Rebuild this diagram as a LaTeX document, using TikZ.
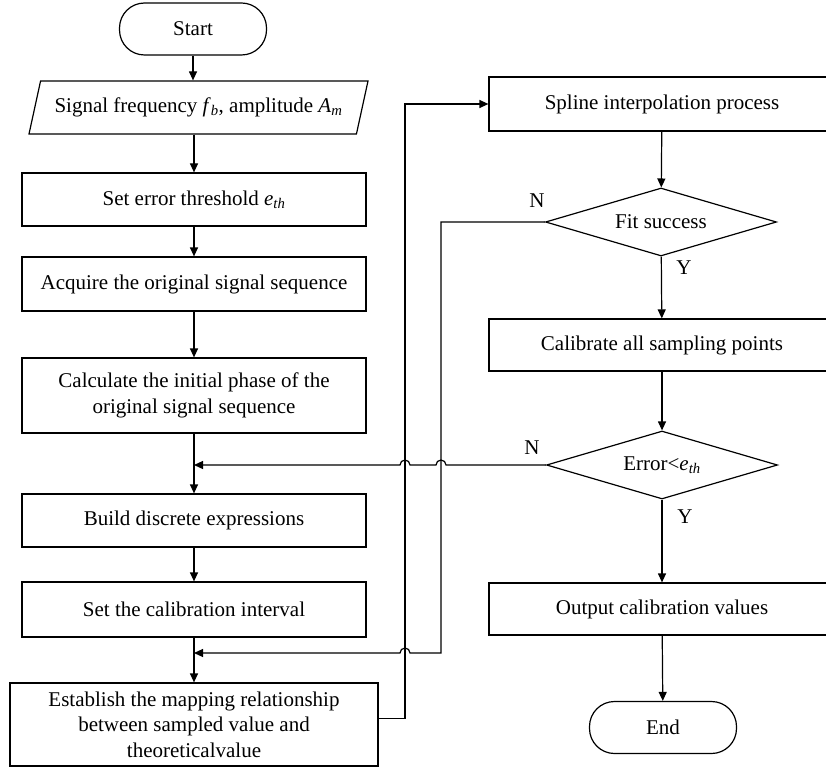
\documentclass[tikz,border=0pt]{standalone}
\usepackage{fontspec}
\setmainfont{Liberation Serif}
\usetikzlibrary{arrows.meta,shapes.geometric,calc}

\newcommand{\itsub}[2]{\textit{#1}\textsubscript{\textit{#2}}}

\begin{document}
\begin{tikzpicture}[
    x=1pt, y=-1pt,
    >={Triangle[length=9pt,width=8pt]},
    every node/.style={font=\fontsize{21}{25.5}\selectfont},
    term/.style={
        rectangle,
        rounded corners=25pt,
        draw,
        line width=1.2pt,
        minimum width=147pt,
        minimum height=52pt
    },
    io/.style={
        trapezium,
        trapezium left angle=66,
        trapezium right angle=114,
        trapezium stretches body,
        draw,
        line width=1.2pt,
        minimum width=339pt,
        minimum height=53pt
    },
    proc/.style={
        rectangle,
        draw,
        line width=1.2pt,
        align=center,
        minimum width=344pt,
        minimum height=54pt
    },
    dec/.style={
        diamond,
        aspect=3.4,
        draw,
        line width=1.2pt,
        inner sep=0pt,
        minimum width=231pt,
        minimum height=68pt
    },
    flow/.style={->, line width=1.2pt}
]
\useasboundingbox (0,0) rectangle (826,767);

% ==================== Left column ====================
\node[term] (start) at (193,29) {Start};
\node[io] (param) at (198.5,107.5) {Signal frequency \itsub{f}{b}, amplitude \itsub{A}{m}};
\node[proc, minimum height=53pt] (seterr) at (194,199.5) {Set error threshold \itsub{e}{th}};
\node[proc] (acquire) at (194,284) {Acquire the original signal sequence};
\node[proc, minimum height=75pt] (phase) at (194,395.5) {Calculate the initial phase of the\\original signal sequence};
\node[proc, minimum height=53pt] (build) at (194,520.5) {Build discrete expressions};
\node[proc, minimum height=55pt] (interval) at (194,609.5) {Set the calibration interval};
\node[proc, minimum width=368pt, minimum height=83pt] (mapping) at (194,724.5) {Establish the mapping relationship\\between sampled value and\\theoreticalvalue};

% ==================== Right column ====================
\node[proc, minimum width=346pt] (spline) at (662,104) {Spline interpolation process};
\node[dec] (fit) at (661,222) {Fit success};
\node[proc, minimum width=346pt, minimum height=52pt] (calib) at (662,345) {Calibrate all sampling points};
\node[dec] (err) at (662,465) {Error<\itsub{e}{th}};
\node[proc, minimum width=346pt, minimum height=52pt] (output) at (662,609) {Output calibration values};
\node[term] (stop) at (663,727.5) {End};

% branch labels
\node (fitN) at (537,201) {N};
\node (fitY) at (684,268) {Y};
\node (errN) at (532,448) {N};
\node (errY) at (685,517) {Y};

% junctions and routing lanes
\coordinate (jn1) at (194,465);
\coordinate (jn2) at (194,653);
\coordinate (feed) at (405,0);
\coordinate (ret) at (441,0);

% main flow
\draw[flow] (start) -- (start |- param.north);
\draw[flow] (seterr |- param.south) -- (seterr);
\draw[flow] (seterr) -- (acquire);
\draw[flow] (acquire) -- (phase);
\draw[flow] (phase) -- (build);
\draw[flow] (build) -- (interval);
\draw[flow] (interval) -- (mapping);
\draw[flow] (spline) -- (fit);
\draw[flow] (fit) -- (calib);
\draw[flow] (calib) -- (err);
\draw[flow] (err) -- (output);
\draw[flow] (output) -- (stop);

% feed line to the spline box
\draw[flow] ([yshift=6pt]mapping.east) -- ([yshift=6pt]mapping.east -| feed) -- (feed |- spline.west) -- (spline.west);

% N branches back to the left column (hop over crossing lines)
\draw[flow] (fit.west) -- (fit.west -| ret) -- (ret |- jn2)
    -- ($(feed |- jn2)+(5pt,0)$) arc[start angle=0, end angle=180, radius=5pt] -- (jn2);
\draw[flow] (err.west) -- ($(ret |- jn1)+(5pt,0)$) arc[start angle=0, end angle=180, radius=5pt]
    -- ($(feed |- jn1)+(5pt,0)$) arc[start angle=0, end angle=180, radius=5pt] -- (jn1);

\end{tikzpicture}
\end{document}
